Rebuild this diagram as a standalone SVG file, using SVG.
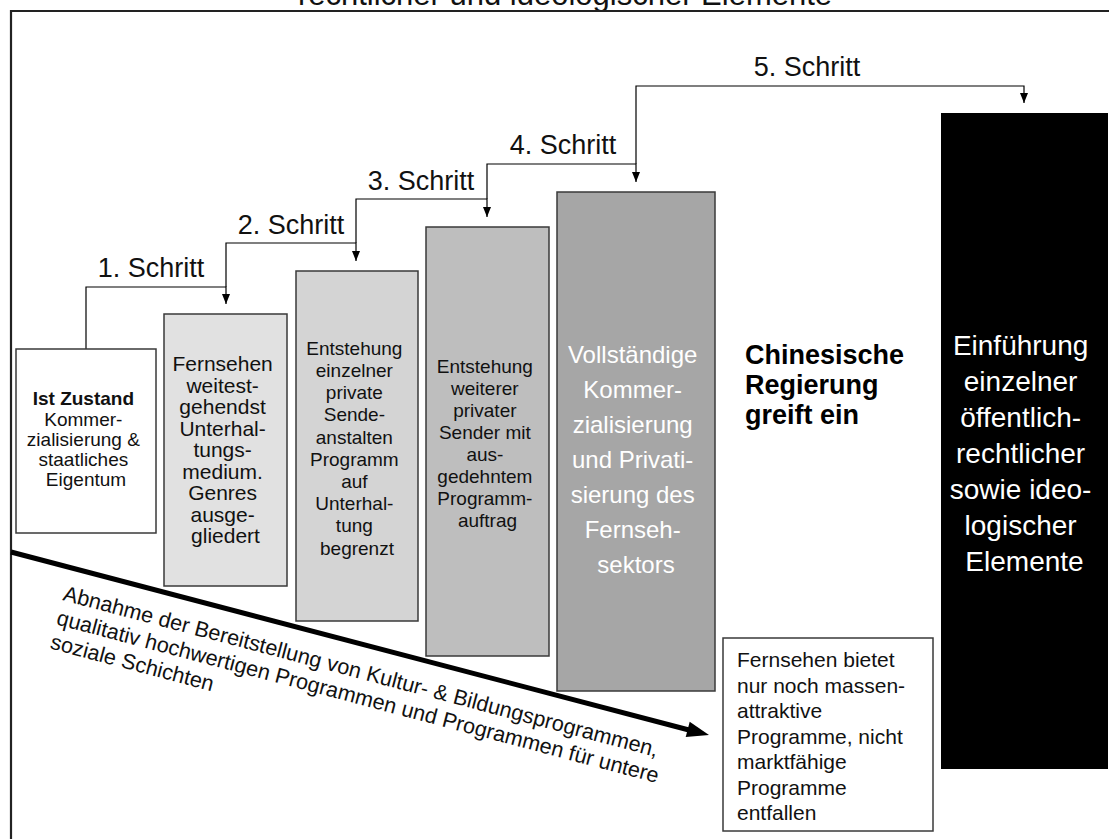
<svg xmlns="http://www.w3.org/2000/svg" width="1109" height="839" viewBox="0 0 1109 839">
  <defs>
    <marker id="tip" markerWidth="8" markerHeight="10" refX="4" refY="10" orient="0" markerUnits="userSpaceOnUse">
      <path d="M0,0 L8,0 L4,10 Z" fill="#000"/>
    </marker>
    <style>
      text { font-family: "Liberation Sans", Arial, sans-serif; fill: #111; }
      .box { stroke: #3a3a3a; stroke-width: 1.5; }
      .conn { fill: none; stroke: #000; stroke-width: 1.2; }
      .step { font-size: 27px; text-anchor: middle; }
      .c { text-anchor: middle; }
    </style>
  </defs>

  <rect width="1109" height="839" fill="#fff"/>

  <!-- heading, partly cut off by the top edge -->
  <text x="565" y="5" font-size="31" text-anchor="middle">rechtlicher und ideologischer Elemente</text>

  <!-- outer frame (open to the right and bottom) -->
  <path d="M11,839 V11 H1109" fill="none" stroke="#222" stroke-width="2.2"/>

  <!-- step connectors -->
  <g id="connectors">
    <path class="conn" d="M86,349 V287 H226 V304" marker-end="url(#tip)"/>
    <path class="conn" d="M226,287 V243 H356 V261" marker-end="url(#tip)"/>
    <path class="conn" d="M356,243 V199 H487 V217" marker-end="url(#tip)"/>
    <path class="conn" d="M487,199 V164 H636 V182" marker-end="url(#tip)"/>
    <path class="conn" d="M636,164 V86 H1024 V103" marker-end="url(#tip)"/>
    <text class="step" x="151" y="277">1. Schritt</text>
    <text class="step" x="291" y="234">2. Schritt</text>
    <text class="step" x="421" y="190">3. Schritt</text>
    <text class="step" x="563" y="154">4. Schritt</text>
    <text class="step" x="807" y="76">5. Schritt</text>
  </g>

  <g id="ist-zustand">
    <rect class="box" x="16" y="349" width="140" height="184" fill="#fff"/>
    <text class="c" font-size="19">
      <tspan x="86" y="405" font-weight="bold">Ist Zustand</tspan>
      <tspan x="86" y="425.5">Kommer-</tspan>
      <tspan x="86" y="446">zialisierung &amp;</tspan>
      <tspan x="86" y="466">staatliches</tspan>
      <tspan x="86" y="486">Eigentum</tspan>
    </text>
  </g>

  <g id="schritt-1">
    <rect class="box" x="164" y="314" width="123" height="272" fill="#e1e1e1"/>
    <text class="c" font-size="21">
      <tspan x="225.5" y="371">Fernsehen</tspan>
      <tspan x="225.5" y="392.5">weitest-</tspan>
      <tspan x="225.5" y="414">gehendst</tspan>
      <tspan x="225.5" y="435.5">Unterhal-</tspan>
      <tspan x="225.5" y="457">tungs-</tspan>
      <tspan x="225.5" y="478.5">medium.</tspan>
      <tspan x="225.5" y="500">Genres</tspan>
      <tspan x="225.5" y="521.5">ausge-</tspan>
      <tspan x="225.5" y="543">gliedert</tspan>
    </text>
  </g>

  <g id="schritt-2">
    <rect class="box" x="296" y="271" width="122" height="350" fill="#d4d4d4"/>
    <text class="c" font-size="19">
      <tspan x="357" y="355">Entstehung</tspan>
      <tspan x="357" y="377">einzelner</tspan>
      <tspan x="357" y="399">private</tspan>
      <tspan x="357" y="421">Sende-</tspan>
      <tspan x="357" y="444">anstalten</tspan>
      <tspan x="357" y="466">Programm</tspan>
      <tspan x="357" y="488">auf</tspan>
      <tspan x="357" y="510">Unterhal-</tspan>
      <tspan x="357" y="532">tung</tspan>
      <tspan x="357" y="555">begrenzt</tspan>
    </text>
  </g>

  <g id="schritt-3">
    <rect class="box" x="426" y="227" width="123" height="429" fill="#bebebe"/>
    <text class="c" font-size="19">
      <tspan x="487.5" y="373">Entstehung</tspan>
      <tspan x="487.5" y="395">weiterer</tspan>
      <tspan x="487.5" y="417">privater</tspan>
      <tspan x="487.5" y="439">Sender mit</tspan>
      <tspan x="487.5" y="461">aus-</tspan>
      <tspan x="487.5" y="483">gedehntem</tspan>
      <tspan x="487.5" y="505">Programm-</tspan>
      <tspan x="487.5" y="527">auftrag</tspan>
    </text>
  </g>

  <g id="schritt-4">
    <rect class="box" x="557" y="192" width="158" height="499" fill="#a6a6a6"/>
    <text class="c" font-size="24" style="fill:#fff">
      <tspan x="636" y="363">Vollständige</tspan>
      <tspan x="636" y="398">Kommer-</tspan>
      <tspan x="636" y="433">zialisierung</tspan>
      <tspan x="636" y="468">und Privati-</tspan>
      <tspan x="636" y="503">sierung des</tspan>
      <tspan x="636" y="538">Fernseh-</tspan>
      <tspan x="636" y="573">sektors</tspan>
    </text>
  </g>

  <g id="regierung">
    <text font-size="27" font-weight="bold" style="fill:#000">
      <tspan x="745" y="364">Chinesische</tspan>
      <tspan x="745" y="394">Regierung</tspan>
      <tspan x="745" y="424">greift ein</tspan>
    </text>
  </g>

  <g id="schritt-5">
    <rect x="941" y="113" width="167" height="656" fill="#000"/>
    <text class="c" font-size="28" style="fill:#fff">
      <tspan x="1024.5" y="355">Einführung</tspan>
      <tspan x="1024.5" y="391">einzelner</tspan>
      <tspan x="1024.5" y="427">öffentlich-</tspan>
      <tspan x="1024.5" y="463">rechtlicher</tspan>
      <tspan x="1024.5" y="499">sowie ideo-</tspan>
      <tspan x="1024.5" y="535">logischer</tspan>
      <tspan x="1024.5" y="571">Elemente</tspan>
    </text>
  </g>

  <g id="ergebnis">
    <rect class="box" x="723" y="638" width="210" height="193" fill="#fff"/>
    <text font-size="21">
      <tspan x="737" y="667">Fernsehen bietet</tspan>
      <tspan x="737" y="692.5">nur noch massen-</tspan>
      <tspan x="737" y="718">attraktive</tspan>
      <tspan x="737" y="743.5">Programme, nicht</tspan>
      <tspan x="737" y="769">marktfähige</tspan>
      <tspan x="737" y="794.5">Programme</tspan>
      <tspan x="737" y="820">entfallen</tspan>
    </text>
  </g>

  <!-- falling trend arrow with its caption -->
  <g id="abnahme">
    <line x1="11" y1="552" x2="689" y2="730" stroke="#000" stroke-width="5"/>
    <polygon points="709,735 689.7,721.7 685.7,737.1" fill="#000"/>
    <text font-size="21.6" transform="translate(62,600) rotate(14.8)">
      <tspan x="0" y="0">Abnahme der Bereitstellung von Kultur- &amp; Bildungsprogrammen,</tspan>
      <tspan x="0" y="25">qualitativ hochwertigen Programmen und Programmen für untere</tspan>
      <tspan x="0" y="50">soziale Schichten</tspan>
    </text>
  </g>
</svg>
